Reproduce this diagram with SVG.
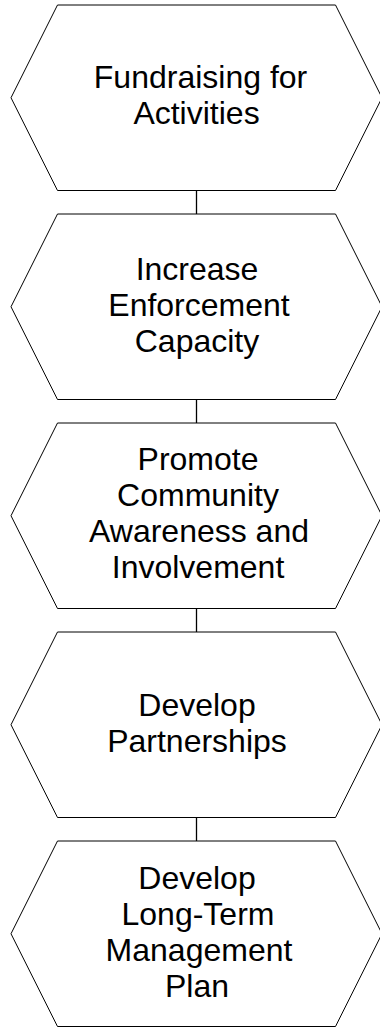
<svg xmlns="http://www.w3.org/2000/svg" width="380" height="1027" viewBox="0 0 380 1027">
<style>
.hex{fill:#fff;stroke:#000;stroke-width:1}
.con{stroke:#000;stroke-width:1.3;fill:none}
text{font-family:"Liberation Sans",Arial,sans-serif;font-size:32px;fill:#000;text-anchor:middle}
</style>
<rect width="380" height="1027" fill="#fff"/>
<g id="connectors">
<line class="con" x1="196.5" y1="190.5" x2="196.5" y2="214"/>
<line class="con" x1="196.5" y1="399.5" x2="196.5" y2="423"/>
<line class="con" x1="196.5" y1="608.5" x2="196.5" y2="632"/>
<line class="con" x1="196.5" y1="817.5" x2="196.5" y2="841"/>
</g>
<g id="node1">
<polygon class="hex" points="57.5,5 335.5,5 382,97.75 335.5,190.5 57.5,190.5 11,97.75"/>
<text x="200.5" y="88">Fundraising for</text>
<text x="196.5" y="124">Activities</text>
</g>
<g id="node2">
<polygon class="hex" points="57.5,214 335.5,214 382,306.75 335.5,399.5 57.5,399.5 11,306.75"/>
<text x="197" y="280">Increase</text>
<text x="199" y="316">Enforcement</text>
<text x="197" y="352">Capacity</text>
</g>
<g id="node3">
<polygon class="hex" points="57.5,423 335.5,423 382,515.75 335.5,608.5 57.5,608.5 11,515.75"/>
<text x="198" y="470">Promote</text>
<text x="198" y="506">Community</text>
<text x="199" y="542">Awareness and</text>
<text x="198" y="578">Involvement</text>
</g>
<g id="node4">
<polygon class="hex" points="57.5,632 335.5,632 382,724.75 335.5,817.5 57.5,817.5 11,724.75"/>
<text x="197" y="716">Develop</text>
<text x="197" y="752">Partnerships</text>
</g>
<g id="node5">
<polygon class="hex" points="57.5,841 335.5,841 382,933.75 335.5,1026.5 57.5,1026.5 11,933.75"/>
<text x="197" y="888.5">Develop</text>
<text x="198" y="924.5">Long-Term</text>
<text x="199" y="960.5">Management</text>
<text x="197" y="996.5">Plan</text>
</g>
</svg>
